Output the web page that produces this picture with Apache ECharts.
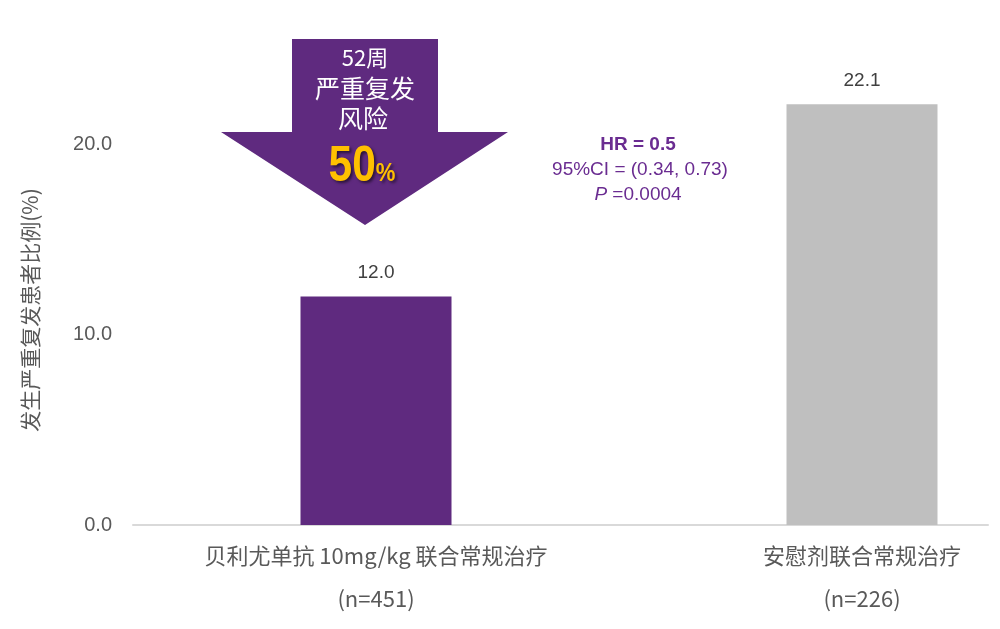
<!DOCTYPE html>
<html>
<head>
<meta charset="utf-8">
<script src="https://cdn.jsdelivr.net/npm/echarts@6/dist/echarts.min.js"></script>
<style>
html,body{margin:0;padding:0;background:#fff;}
#chart{width:1000px;height:629px;}
</style>
</head>
<body>
<div id="chart"></div>
<script>
// ---- data ----
const categories = ['贝利尤单抗 10mg/kg 联合常规治疗\n(n=451)', '安慰剂联合常规治疗\n(n=226)'];
const values = [12.0, 22.1];
const yAxisTitle = '发生严重复发患者比例(%)';
const arrowLines = ['52周', '严重复发', '风险'];
const reductionPct = '50';
const statLines = ['HR = 0.5', '95%CI = (0.34, 0.73)', '=0.0004'];

const purple = '#5F2A7F';
const grey = '#BFBFBF';
const cjk = '"Liberation Sans Narrow","Noto Sans CJK SC",sans-serif';

const chart = echarts.init(document.getElementById('chart'), null, {renderer: 'canvas'});

const option = {
  backgroundColor: '#fff',
  animation: false,
  grid: [
    {left: 133, width: 972, top: 49, bottom: 104, containLabel: false, outerBoundsMode: 'none'},
    {left: 133, right: 12, top: 49, bottom: 104, containLabel: false, outerBoundsMode: 'none'}
  ],
  xAxis: [
    {
      type: 'category', gridIndex: 0, data: categories,
      axisLine: {show: false}, axisTick: {show: false},
      axisLabel: {
        color: '#595959', fontSize: 22, lineHeight: 43, margin: 9,
        fontFamily: cjk, interval: 0
      }
    },
    {
      type: 'category', gridIndex: 1, data: categories,
      axisLine: {show: true, lineStyle: {color: '#D9D9D9', width: 2}},
      axisTick: {show: false}, axisLabel: {show: false}
    }
  ],
  yAxis: [
    {
      type: 'value', gridIndex: 0, min: 0, max: 25, interval: 10,
      axisLine: {show: false}, axisTick: {show: false},
      splitLine: {show: false},
      axisLabel: {
        color: '#595959', fontSize: 20, margin: 21, showMaxLabel: false,
        fontFamily: '"Liberation Sans", sans-serif',
        formatter: v => v.toFixed(1)
      }
    },
    {
      type: 'value', gridIndex: 1, min: 0, max: 25, show: false
    }
  ],
  series: [
    {
      type: 'bar', xAxisIndex: 0, yAxisIndex: 0,
      data: values.map((v, i) => ({value: v, itemStyle: {color: i === 0 ? purple : grey}})),
      barWidth: 151,
      label: {
        show: true, position: 'top', distance: 14,
        color: '#404040', fontSize: 19,
        fontFamily: '"Liberation Sans", sans-serif',
        formatter: p => p.value.toFixed(1)
      }
    }
  ],
  graphic: [
    {
      type: 'text', z: 11, x: 30, y: 310, rotation: Math.PI / 2,
      style: {text: yAxisTitle, fill: '#595959', font: '21px ' + cjk, align: 'center', verticalAlign: 'middle'}
    },
    {
      type: 'polygon', z: 10,
      shape: {points: [[292, 39], [438, 39], [438, 132], [508, 132], [365, 225], [221, 132], [292, 132]]},
      style: {fill: purple}
    },
    {
      type: 'text', z: 11, x: 365, y: 58,
      style: {text: arrowLines[0], fill: '#fff', font: '22px ' + cjk, align: 'center', verticalAlign: 'middle'}
    },
    {
      type: 'text', z: 11, x: 365, y: 88,
      style: {text: arrowLines[1], fill: '#fff', font: '25px ' + cjk, align: 'center', verticalAlign: 'middle'}
    },
    {
      type: 'text', z: 11, x: 363, y: 118,
      style: {text: arrowLines[2], fill: '#fff', font: '25px ' + cjk, align: 'center', verticalAlign: 'middle'}
    },
    {
      type: 'text', z: 11, x: 362, y: 167, scaleX: 0.85,
      style: {
        text: '{b|' + reductionPct + '}{s|%}', align: 'center', verticalAlign: 'middle',
        rich: {
          b: {fill: '#FFC000', font: 'bold 50px "Liberation Sans",sans-serif',
              textShadowColor: 'rgba(0,0,0,0.55)', textShadowBlur: 3, textShadowOffsetX: 2, textShadowOffsetY: 2},
          s: {fill: '#FFC000', font: 'bold 26px "Liberation Sans",sans-serif', padding: [14, 0, 0, 0],
              textShadowColor: 'rgba(0,0,0,0.55)', textShadowBlur: 3, textShadowOffsetX: 2, textShadowOffsetY: 2}
        }
      }
    },
    {
      type: 'text', z: 11, x: 638, y: 145,
      style: {text: statLines[0], fill: '#6A2C91', font: 'bold 19px "Liberation Sans Narrow","Liberation Sans",sans-serif', align: 'center', verticalAlign: 'middle'}
    },
    {
      type: 'text', z: 11, x: 640, y: 170,
      style: {text: statLines[1], fill: '#6A2C91', font: '19px "Liberation Sans Narrow","Liberation Sans",sans-serif', align: 'center', verticalAlign: 'middle'}
    },
    {
      type: 'text', z: 11, x: 638, y: 195,
      style: {
        text: '{i|P }{n|' + statLines[2] + '}', align: 'center', verticalAlign: 'middle',
        rich: {
          i: {fill: '#6A2C91', font: 'italic 19px "Liberation Sans Narrow","Liberation Sans",sans-serif'},
          n: {fill: '#6A2C91', font: '19px "Liberation Sans Narrow","Liberation Sans",sans-serif'}
        }
      }
    }
  ]
};
chart.setOption(option);
</script>
</body>
</html>
